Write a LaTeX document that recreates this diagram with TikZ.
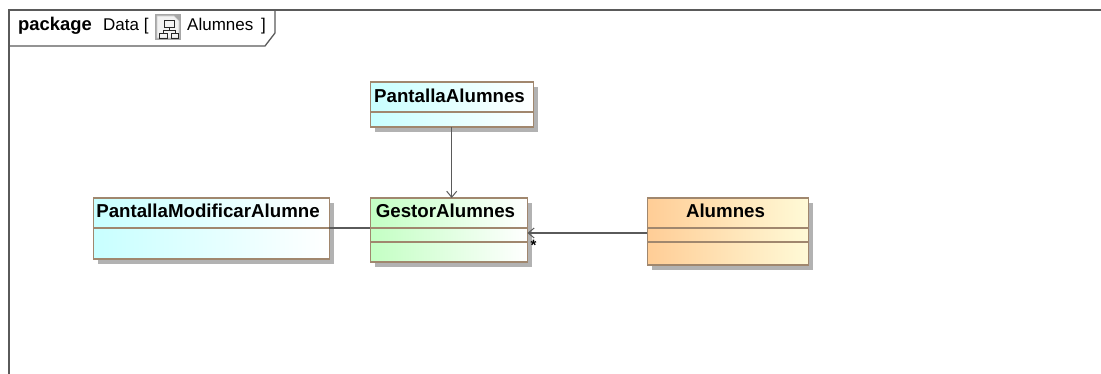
\documentclass[tikz,border=0pt]{standalone}
\usepackage{fontspec}
\setmainfont{Liberation Sans}
\usetikzlibrary{arrows.meta,calc}
\definecolor{boxline}{RGB}{160,135,110}
\definecolor{shadowc}{RGB}{178,178,178}
\definecolor{conn}{RGB}{90,90,90}
\definecolor{framec}{RGB}{90,90,90}
\definecolor{cyanc}{RGB}{200,255,255}
\definecolor{greenc}{RGB}{195,255,195}
\definecolor{orangec}{RGB}{255,205,150}
\definecolor{yellowc}{RGB}{255,250,215}
\tikzset{
  x=1pt,y=-1pt,
  umlbox/.style={inner sep=0pt,anchor=north west,
    preaction={fill=shadowc,draw=none,transform canvas={xshift=5pt,yshift=-5pt}},
    postaction={draw=boxline,line width=1.4pt}},
  titletext/.style={font=\fontsize{18.7}{20}\selectfont\bfseries,inner sep=0pt,anchor=base},
  divider/.style={draw=boxline,line width=1.3pt},
  connector/.style={draw=conn,line width=1.5pt},
  openarrow/.style={connector,-{Straight Barb[length=6pt,width=10pt,line width=1pt]}},
  framecolor/.style={draw=framec,line width=1.3pt},
  headertext/.style={font=\fontsize{17}{19}\selectfont,inner sep=0pt,anchor=base west}
}
\begin{document}
\begin{tikzpicture}
\useasboundingbox (0,0) rectangle (1101,374);
\fill[white] (0,0) rectangle (1101,374);
% frame
\draw[framecolor] (9,374) -- (9,10) -- (1101,10);
\draw[framecolor] (275,10) -- (275,33) -- (265,46) -- (9,46);
\node[headertext,font=\fontsize{18.4}{20}\selectfont\bfseries] (hpkg) at (18,31) {package};
\node[headertext] (hdata) at (103,31) {Data [};
\node[headertext] (halu) at (187,31) {Alumnes};
\node[headertext] (hend) at (261,31) {]};
% icon
\fill[gray!70] (155,14) rectangle (181,40);
\draw[gray!40,line width=.6pt,fill=gray!10] (157,16) -- (174,16) -- (179,21) -- (179,38) -- (157,38) -- cycle;
\draw[gray!30!black,line width=.9pt] (164,20) rectangle (174,27) (169,27) -- (169,30) (163,30) -- (175,30) (163,30) -- (163,33) (175,30) -- (175,33) (159,33) rectangle (167,38) (171,33) rectangle (178,38);
% boxes
\node[umlbox,minimum width=163pt,minimum height=45pt,left color=cyanc,right color=white] (pa) at (370,82) {};
\node[umlbox,minimum width=157pt,minimum height=64pt,left color=greenc,right color=white] (ge) at (370,198) {};
\node[umlbox,minimum width=236pt,minimum height=61pt,left color=cyanc,right color=white] (pm) at (93,198) {};
\node[umlbox,minimum width=161pt,minimum height=67pt,left color=orangec,right color=yellowc] (al) at (647,198) {};
% dividers
\draw[divider] ($(pa.north west)+(0,30)$) -- ($(pa.north east)+(0,30)$);
\draw[divider] ($(ge.north west)+(0,30)$) -- ($(ge.north east)+(0,30)$);
\draw[divider] ($(ge.north west)+(0,44)$) -- ($(ge.north east)+(0,44)$);
\draw[divider] ($(pm.north west)+(0,30)$) -- ($(pm.north east)+(0,30)$);
\draw[divider] ($(al.north west)+(0,30)$) -- ($(al.north east)+(0,30)$);
\draw[divider] ($(al.north west)+(0,44)$) -- ($(al.north east)+(0,44)$);
% titles
\node[titletext] (tpa) at (449.5,103) {PantallaAlumnes};
\node[titletext] (tge) at (445.5,218) {GestorAlumnes};
\node[titletext] (tpm) at (208,218) {PantallaModificarAlumne};
\node[titletext] (tal) at (725.5,218) {Alumnes};
% connectors
\coordinate (paout) at (pa.south);
\draw[openarrow] (paout) -- (paout |- ge.north);
\coordinate (pmout) at ($(pm.north east)+(0,30)$);
\draw[connector] (pmout) -- (pmout -| ge.west);
\coordinate (alout) at ($(al.north west)+(0,35)$);
\draw[openarrow] (alout) -- (alout -| ge.east);
\node[font=\fontsize{15}{16}\selectfont\bfseries,inner sep=0pt] (mult) at (533.5,245) {*};
\end{tikzpicture}
\end{document}
